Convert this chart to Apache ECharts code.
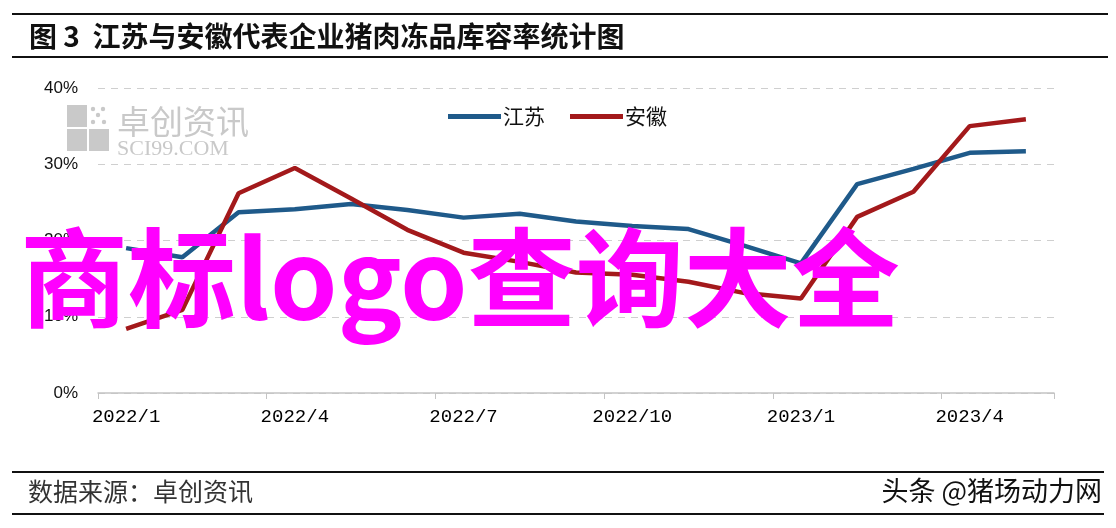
<!DOCTYPE html>
<html>
<head>
<meta charset="utf-8">
<script src="https://cdn.jsdelivr.net/npm/echarts@6/dist/echarts.min.js"></script>
<style>
html,body{margin:0;padding:0;background:#fff;}
#chart{width:1116px;height:528px;}
</style>
</head>
<body>
<div id="chart"></div>
<script>
var months = ["2022/1","2022/2","2022/3","2022/4","2022/5","2022/6","2022/7","2022/8","2022/9","2022/10","2022/11","2022/12","2023/1","2023/2","2023/3","2023/4","2023/5"];
var jiangsu = [19.0, 17.8, 23.7, 24.1, 24.8, 24.0, 23.0, 23.5, 22.5, 21.9, 21.5, 19.3, 17.0, 27.4, 29.4, 31.5, 31.7];
var anhui   = [8.4, 10.9, 26.2, 29.5, 25.5, 21.4, 18.4, 17.2, 15.8, 15.5, 14.6, 13.1, 12.4, 23.1, 26.4, 35.0, 35.9];
var seriesNames = ["江苏", "安徽"];
var yTicks = [0, 10, 20, 30, 40];
var titleText = "图 3  江苏与安徽代表企业猪肉冻品库容率统计图";
var sourceText = "数据来源：卓创资讯";
var creditText = "头条 @猪场动力网";
var overlayText = "商标logo查询大全";
var wmCn = "卓创资讯";
var wmEn = "SCI99.COM";

var chart = echarts.init(document.getElementById('chart'), null, {renderer: 'canvas'});
var CJK = '"Noto Sans CJK SC", "Noto Sans", sans-serif';
var wmColor = '#c9c9c9';

var option = {
  backgroundColor: '#ffffff',
  animation: false,
  grid: {left: 98, right: 62, top: 88, bottom: 135, containLabel: false},
  legend: {
    data: seriesNames,
    left: 443,
    top: 101,
    icon: 'rect',
    itemWidth: 53,
    itemHeight: 5,
    itemGap: 25,
    textStyle: {fontSize: 21, color: '#111', fontFamily: CJK, padding: [0, 0, 0, -3]}
  },
  xAxis: {
    type: 'category',
    data: months,
    boundaryGap: true,
    axisLine: {show: true, lineStyle: {color: '#c4c4c4', width: 1.5}},
    axisTick: {show: true, interval: 2, length: 6, lineStyle: {color: '#c4c4c4'}},
    axisLabel: {interval: 2, margin: 14, fontSize: 19, color: '#000', fontFamily: '"Liberation Mono", monospace'},
    splitLine: {show: false}
  },
  yAxis: {
    type: 'value',
    min: yTicks[0],
    max: yTicks[yTicks.length - 1],
    interval: 10,
    axisLine: {show: false},
    axisTick: {show: false},
    axisLabel: {formatter: '{value}%', margin: 20, fontSize: 17, color: '#111', fontFamily: '"Liberation Sans", sans-serif'},
    splitLine: {show: true, lineStyle: {color: '#cfcfcf', type: [7, 6], width: 1.2}}
  },
  series: [
    {
      name: seriesNames[0], type: 'line', data: jiangsu, symbol: 'none', z: 3,
      lineStyle: {color: '#1f5a8a', width: 4.5}, itemStyle: {color: '#1f5a8a'}
    },
    {
      name: seriesNames[1], type: 'line', data: anhui, symbol: 'none', z: 4,
      lineStyle: {color: '#a3191b', width: 4.5}, itemStyle: {color: '#a3191b'}
    }
  ],
  graphic: [
    {type: 'line', shape: {x1: 12, y1: 14, x2: 1108, y2: 14}, style: {stroke: '#111', lineWidth: 2}, silent: true},
    {type: 'line', shape: {x1: 12, y1: 57, x2: 1108, y2: 57}, style: {stroke: '#111', lineWidth: 2}, silent: true},
    {type: 'text', left: 29, top: 22, style: {text: titleText, font: 'bold 28px ' + CJK, fill: '#111'}, silent: true},
    {type: 'line', shape: {x1: 12, y1: 472, x2: 1104, y2: 472}, style: {stroke: '#111', lineWidth: 2}, silent: true},
    {type: 'line', shape: {x1: 12, y1: 514, x2: 1104, y2: 514}, style: {stroke: '#111', lineWidth: 2}, silent: true},
    {type: 'text', left: 28, top: 479, style: {text: sourceText, font: '25px ' + CJK, fill: '#333'}, silent: true},
    {type: 'text', right: 14, top: 477, style: {text: creditText, font: '27px ' + CJK, fill: '#111'}, silent: true},
    {type: 'group', left: 67, top: 105, silent: true, z: 0, children: [
      {type: 'rect', shape: {x: 0, y: 0, width: 20, height: 22}, style: {fill: wmColor}},
      {type: 'rect', shape: {x: 22, y: 24, width: 20, height: 22}, style: {fill: wmColor}},
      {type: 'rect', shape: {x: 0, y: 24, width: 20, height: 22}, style: {fill: wmColor}},
      {type: 'circle', shape: {cx: 26, cy: 4, r: 2.2}, style: {fill: wmColor}},
      {type: 'circle', shape: {cx: 36, cy: 4, r: 2.2}, style: {fill: wmColor}},
      {type: 'circle', shape: {cx: 31, cy: 10, r: 2.2}, style: {fill: wmColor}},
      {type: 'circle', shape: {cx: 26, cy: 17, r: 2.2}, style: {fill: wmColor}},
      {type: 'circle', shape: {cx: 37, cy: 17, r: 2.2}, style: {fill: wmColor}},
      {type: 'text', x: 50, y: 0, style: {text: wmCn, font: '33px ' + CJK, fill: wmColor}},
      {type: 'text', x: 50, y: 33, style: {text: wmEn, font: '22px "Liberation Serif", serif', fill: wmColor}}
    ]},
    {type: 'text', left: 20, top: 224, z: 100, silent: true,
      style: {text: overlayText, font: 'bold 108px ' + CJK, fill: '#ff00ff'}}
  ]
};
chart.setOption(option);
</script>
</body>
</html>
